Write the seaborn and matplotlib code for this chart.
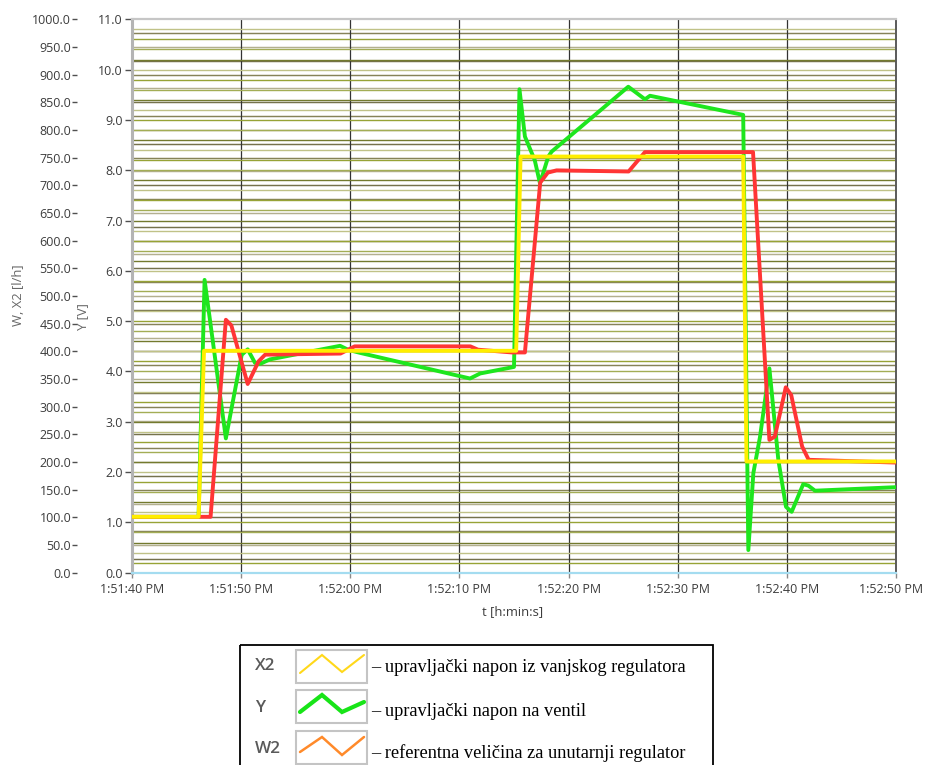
import numpy as np
import seaborn as sns
import matplotlib
matplotlib.use("Agg")
import matplotlib.pyplot as plt
from matplotlib.patches import Rectangle
from matplotlib.transforms import ScaledTranslation

# time in seconds after 1:51:40 PM
t_x2 = [0, 6.1, 6.6, 35.2, 35.6, 56.0, 56.3, 70]
x2 = [101, 101, 401, 401, 752, 752, 201, 201]  # l/h

t_w2 = [0, 7.2, 8.6, 9.1, 10.6, 11.6, 12.2, 19.1, 20.4, 31.0, 31.7, 34.8, 36.0,
        37.4, 38.1, 38.9, 45.5, 47.0, 56.9, 58.4, 58.9, 59.9, 60.4, 61.4, 62.0, 70]
w2 = [101, 101, 457, 447, 341, 382, 394, 396, 409, 409, 403, 398, 398,
      705, 723, 727, 725, 760, 760, 240, 246, 335, 321, 228, 204, 199]  # l/h

t_y = [0, 6.1, 6.65, 8.6, 10.05, 10.6, 11.27, 11.73, 12.64, 19.06, 19.82, 20.89,
       30.97, 31.9, 35.0, 35.5, 36.0, 36.9, 37.38, 38.14, 38.45, 45.47, 47.0, 47.46,
       56.0, 56.47, 56.93, 57.54, 58.4, 59.22, 59.92, 60.44, 61.5, 61.97, 62.58, 70]
y = [1.11, 1.11, 5.82, 2.67, 4.33, 4.44, 4.17, 4.15, 4.24, 4.51, 4.43, 4.37,
     3.86, 3.96, 4.09, 9.61, 8.67, 8.20, 7.74, 8.27, 8.37, 9.66, 9.41, 9.48,
     9.10, 0.45, 1.98, 2.70, 4.06, 2.24, 1.31, 1.21, 1.76, 1.73, 1.63, 1.70]  # V

x_ticks = [0, 10, 20, 30, 40, 50, 60, 70]
x_labels = ["1:51:40 PM", "1:51:50 PM", "1:52:00 PM", "1:52:10 PM",
            "1:52:20 PM", "1:52:30 PM", "1:52:40 PM", "1:52:50 PM"]

legend_keys = ["X2", "Y", "W2"]
legend_texts = ["\u2013 upravljački napon iz vanjskog regulatora",
                "\u2013 upravljački napon na ventil",
                "\u2013 referentna veličina za unutarnji regulator"]

sns.set_style("white")
plt.rcParams["font.family"] = ["Open Sans", "DejaVu Sans"]

W, H = 925, 765
fig = plt.figure(figsize=(W / 100, H / 100), dpi=100)
rect = [132 / W, 1 - 572.7 / H, 764 / W, 553.4 / H]

tick_col = "#3c3c3c"
fs = 9.0

# bottom layer: W scale with its grid and the time axis
ax_w = fig.add_axes(rect)
ax_w.set_xlim(0, 70)
ax_w.set_ylim(0, 1000)
w_grid_cols = ["#75724c", "#b3b08f", "#868358"]
for i, g in enumerate(np.arange(25, 1000, 25)):
    ax_w.axhline(g, color=w_grid_cols[i % 3], lw=1.05, zorder=1)
for xt in x_ticks[1:-1]:
    ax_w.axvline(xt, color="#333333", lw=0.9, zorder=1.2)
ax_w.set_yticks(np.arange(0, 1001, 50))
ax_w.set_yticklabels([f"{v:.1f}" for v in np.arange(0, 1001, 50)])
ax_w.spines["left"].set_position(("outward", 39.6))
for s in ax_w.spines.values():
    s.set_visible(False)
ax_w.tick_params(axis="y", left=True, length=3.4, width=1.0, pad=0.8,
                 colors="#505050", labelcolor=tick_col, labelsize=fs)
ax_w.set_xticks(x_ticks)
ax_w.set_xticklabels(x_labels)
ax_w.tick_params(axis="x", bottom=True, length=3.5, width=1.0, pad=4,
                 colors="#8a8a8a", labelcolor=tick_col, labelsize=fs)
last = ax_w.get_xticklabels()[-1]
last.set_transform(last.get_transform() + ScaledTranslation(-0.05, 0, fig.dpi_scale_trans))

# middle layer: Y scale (V) with grid and the Y signal
ax_v = ax_w.twinx()
ax_v.set_ylim(0, 11)
ax_v.set_xlim(0, 70)
v_grid_cols = ["#97a336", "#c0c288", "#737a2e", "#a3ad55"]
for i, g in enumerate(np.arange(0.2, 10.9, 0.2)):
    ax_v.axhline(g, color=v_grid_cols[i % 4], lw=1.0, zorder=1)
sns.lineplot(x=t_y, y=y, ax=ax_v, color="#1ee61e", lw=2.8, estimator=None,
             sort=False, zorder=3)
ax_v.yaxis.set_ticks_position("left")
ax_v.set_yticks(np.arange(0, 11.5, 1))
ax_v.set_yticklabels([f"{v:.1f}" for v in np.arange(0, 11.5, 1)])
ax_v.tick_params(axis="y", left=True, right=False, labelleft=True, labelright=False,
                 length=5, width=1.0, pad=1.5, colors="#505050",
                 labelcolor=tick_col, labelsize=fs)
ax_v.spines["left"].set_color("#b4b4b4")
ax_v.spines["left"].set_linewidth(2.2)
ax_v.spines["top"].set_color("#c6c6c6")
ax_v.spines["top"].set_linewidth(1.6)
ax_v.spines["right"].set_color("#5a5a5a")
ax_v.spines["right"].set_linewidth(1.4)
ax_v.spines["bottom"].set_color("#a4dcf0")
ax_v.spines["bottom"].set_linewidth(1.6)

# top layer: W2 and X2 in l/h
ax_t = ax_w.twinx()
ax_t.set_ylim(0, 1000)
ax_t.set_xlim(0, 70)
sns.lineplot(x=t_w2, y=w2, ax=ax_t, color="#ff3535", lw=2.8, estimator=None, sort=False)
sns.lineplot(x=t_x2, y=x2, ax=ax_t, color="#ffee00", lw=2.8, estimator=None, sort=False)
ax_t.yaxis.set_visible(False)
for s in ax_t.spines.values():
    s.set_visible(False)
for a in (ax_w, ax_v, ax_t):
    a.set_xlabel("")
    a.set_ylabel("")

fig.text(18 / W, 1 - 295 / H, "W, X2 [l/h]", rotation=90, ha="center", va="center",
         fontsize=9.4, color="#666666")
fig.text(83 / W, 1 - 317 / H, "Y [V]", rotation=90, ha="center", va="center",
         fontsize=9.4, color="#666666")
fig.text(513 / W, 1 - 612 / H, "t [h:min:s]", ha="center", va="center",
         fontsize=9.4, color=tick_col)

# legend panel drawn in pixel coordinates
lax = fig.add_axes([0, 0, 1, 1])
lax.set_xlim(0, W)
lax.set_ylim(H, 0)
lax.axis("off")
lax.add_patch(Rectangle((239.5, 645), 473, 135, fill=False, ec="black", lw=1.3))

swatch_cols = ["#ffd81a", "#18e418", "#ff8a2a"]
swatch_lw = [1.5, 3.0, 1.8]
swatch_top = [650, 690, 731]
zig_x = [300, 322, 342, 364]
zig_dy = [[23, 5, 22, 5], [22, 5, 22, 12], [21, 6, 24, 6]]
row_y = [666, 708, 749]
text_y = [667, 712, 753]
for k in range(3):
    lax.add_patch(Rectangle((296, swatch_top[k]), 71, 33, fc="white", ec="#c4c4c4", lw=1.5))
    lax.plot(zig_x, [swatch_top[k] + d for d in zig_dy[k]], color=swatch_cols[k],
             lw=swatch_lw[k], solid_joinstyle="miter")
    lax.text(255, row_y[k], legend_keys[k], ha="left", va="center", fontsize=12.3,
             fontweight="semibold", color="#5a5a5a")
    lax.text(371, text_y[k], legend_texts[k], ha="left", va="center", fontsize=13.2,
             family=["Liberation Serif", "DejaVu Serif"], color="black")

fig.savefig("out.png", dpi=100)
